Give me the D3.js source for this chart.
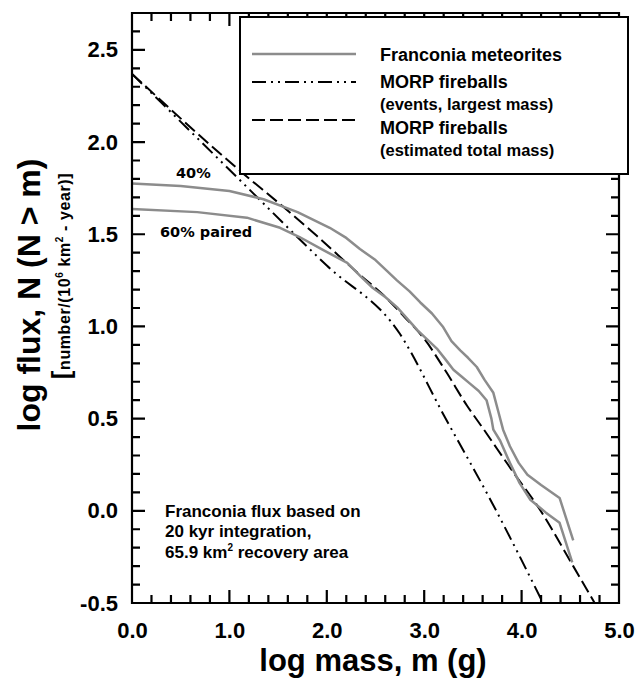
<!DOCTYPE html>
<html>
<head>
<meta charset="utf-8">
<script src="https://cdn.jsdelivr.net/npm/d3@7"></script>
<style>
  body { margin: 0; background: #fff; }
  svg { font-family: "Liberation Sans", Arial, sans-serif; font-weight: bold; }
</style>
</head>
<body>
<div id="chart"></div>
<script>
// Franconia meteorite flux vs MORP fireball flux

// data: [log mass, log flux]
const franconia40 = [[0, 1.775], [0.5, 1.762], [1.0, 1.735], [1.35, 1.69], [1.7, 1.62], [2.03, 1.535],
    [2.2, 1.48], [2.34, 1.42], [2.5, 1.36], [2.62, 1.3], [2.72, 1.25], [2.85, 1.19], [2.96, 1.13],
    [3.08, 1.07], [3.19, 1.0], [3.28, 0.92], [3.37, 0.87], [3.45, 0.83], [3.54, 0.78], [3.62, 0.71],
    [3.71, 0.64], [3.76, 0.54], [3.81, 0.44], [3.88, 0.35], [3.97, 0.26], [4.06, 0.195], [4.2, 0.14],
    [4.39, 0.07], [4.53, -0.16]];
const franconia60 = [[0, 1.637], [0.67, 1.62], [1.18, 1.59], [1.52, 1.535], [1.72, 1.485], [1.96, 1.415],
    [2.21, 1.345], [2.35, 1.27], [2.47, 1.21], [2.6, 1.16], [2.72, 1.105], [2.83, 1.04], [2.93, 0.98],
    [3.03, 0.93], [3.13, 0.88], [3.22, 0.82], [3.30, 0.765], [3.38, 0.73], [3.47, 0.69], [3.56, 0.65],
    [3.64, 0.60], [3.69, 0.5], [3.71, 0.44], [3.78, 0.38], [3.88, 0.26], [3.98, 0.15], [4.09, 0.06],
    [4.25, -0.01], [4.39, -0.065], [4.52, -0.28]];
const morpEvents = [[0, 2.37], [1.0, 1.85], [2.0, 1.33], [2.75, 0.96], [3.2, 0.52], [3.7, 0.04], [4.22, -0.5]];
const morpTotal = [[0, 2.37], [1.14, 1.83], [1.55, 1.65], [1.9, 1.49], [2.34, 1.28], [2.58, 1.17],
    [2.8, 1.05], [2.99, 0.94], [3.23, 0.75], [3.44, 0.57], [3.6, 0.45], [3.9, 0.22], [4.19, 0.005],
    [4.53, -0.3], [4.75, -0.5]];

const xTicks = [0, 1, 2, 3, 4, 5];
const yTicks = [-0.5, 0, 0.5, 1, 1.5, 2, 2.5];
const legendLabels = ["Franconia meteorites", "MORP fireballs", "(events, largest mass)", "MORP fireballs", "(estimated total mass)"];

const height = 678,
    width = 638,
    margin = ({ top: 13, right: 19, bottom: 75, left: 132 });

const svg = d3.select("#chart")
    .append("svg")
    .attr("width", width)
    .attr("height", height);

let x = d3.scaleLinear()
    .domain([0, 5])
    .range([margin.left, width - margin.right]);

let y = d3.scaleLinear()
    .domain([-0.5, 2.7])
    .range([height - margin.bottom, margin.top]);

const fmt = d => d3.format(".1f")(d).replace("\u2212", "-");

// tick labels
const xAxis = svg.append("g")
    .attr("transform", `translate(0,${height - margin.bottom})`)
    .call(d3.axisBottom(x).tickValues(xTicks).tickSize(0).tickPadding(19).tickFormat(fmt));
const yAxis = svg.append("g")
    .attr("transform", `translate(${margin.left},0)`)
    .call(d3.axisLeft(y).tickValues(yTicks).tickSize(0).tickPadding(14).tickFormat(fmt));
for (let g of [xAxis, yAxis]) {
    g.select(".domain").remove();
    g.selectAll("text").attr("fill", "#000").style("font-size", "22px");
}

svg.append("clipPath").attr("id", "plot-clip")
    .append("rect")
    .attr("x", margin.left).attr("y", margin.top)
    .attr("width", width - margin.left - margin.right)
    .attr("height", height - margin.top - margin.bottom);

const plot = svg.append("g").attr("clip-path", "url(#plot-clip)");

const grey = "#8c8c8c";
const dashDotDot = "14,5,2,5,2,5";
const dashed = "13,5";

let smooth = d3.line().x(d => x(d[0])).y(d => y(d[1])).curve(d3.curveMonotoneX);
let line = d3.line().x(d => x(d[0])).y(d => y(d[1]));

plot.append("path").datum(morpEvents).attr("d", smooth)
    .attr("fill", "none").attr("stroke", "#000").attr("stroke-width", 2).attr("stroke-dasharray", dashDotDot);
plot.append("path").datum(morpTotal).attr("d", smooth)
    .attr("fill", "none").attr("stroke", "#000").attr("stroke-width", 2).attr("stroke-dasharray", dashed);

for (let s of [franconia40, franconia60]) {
    plot.append("path").datum(s).attr("d", line)
        .attr("fill", "none").attr("stroke", grey).attr("stroke-width", 2.5)
        .attr("stroke-linejoin", "round");
}

// frame and inward ticks on all four sides in one path
const xMinor = d3.range(0, 26).map(i => i / 5);
const yMinor = d3.range(0, 33).map(i => -0.5 + i / 10);
const isMajor = (d, step) => Math.abs(d / step - Math.round(d / step)) < 1e-6;
const yb = y(-0.5), yt = y(2.7), xl = x(0), xr = x(5);

const fp = d3.path();
fp.rect(xl, yt, xr - xl, yb - yt);
xMinor.forEach(d => {
    const len = isMajor(d, 1) ? 13 : 8;
    fp.moveTo(x(d), yb); fp.lineTo(x(d), yb - len);
    fp.moveTo(x(d), yt); fp.lineTo(x(d), yt + len);
});
yMinor.forEach(d => {
    const len = isMajor(d, 0.5) ? 13 : 8;
    fp.moveTo(xl, y(d)); fp.lineTo(xl + len, y(d));
    fp.moveTo(xr, y(d)); fp.lineTo(xr - len, y(d));
});
svg.append("path")
    .attr("d", fp.toString())
    .attr("fill", "none")
    .attr("stroke", "#000")
    .attr("stroke-width", 2.2);

// legend
const legend = svg.append("g");
legend.append("rect")
    .attr("x", 240).attr("y", 17).attr("width", 388).attr("height", 157)
    .attr("fill", "#fff").attr("stroke", "#000").attr("stroke-width", 2);

const legendRows = [
    { y: 54, stroke: grey, dash: null, w: 2.5 },
    { y: 82, stroke: "#000", dash: dashDotDot, w: 2 },
    { y: 120, stroke: "#000", dash: dashed, w: 2 }
];
legendRows.forEach(r => {
    legend.append("line")
        .attr("x1", 252).attr("x2", 356).attr("y1", r.y).attr("y2", r.y)
        .attr("stroke", r.stroke).attr("stroke-width", r.w)
        .attr("stroke-dasharray", r.dash);
});
const legendTextY = [61, 88, 110, 134, 156];
legendLabels.forEach((t, i) => {
    legend.append("text")
        .attr("x", 380).attr("y", legendTextY[i])
        .style("font-size", t.startsWith("(") ? "16.5px" : "18px")
        .text(t);
});

// annotations
svg.append("text").attr("x", 176).attr("y", 178)
    .style("font-family", "DejaVu Sans").style("font-size", "14.5px").text("40%");
svg.append("text").attr("x", 160).attr("y", 237)
    .style("font-family", "DejaVu Sans").style("font-size", "14.5px").text("60% paired");

const note = svg.append("text").style("font-size", "17px");
note.append("tspan").attr("x", 165).attr("y", 517).text("Franconia flux based on");
note.append("tspan").attr("x", 165).attr("y", 537).text("20 kyr integration,");
note.append("tspan").attr("x", 165).attr("y", 558).text("65.9 km");
note.append("tspan").attr("dy", -7).style("font-size", "10px").text("2");
note.append("tspan").attr("dy", 7).text(" recovery area");

// axis titles
svg.append("text")
    .attr("text-anchor", "middle")
    .attr("x", 373)
    .attr("y", 671)
    .style("font-size", "31px")
    .text("log mass, m (g)");

svg.append("text")
    .attr("text-anchor", "middle")
    .attr("transform", "translate(40,295) rotate(-90)")
    .style("font-size", "32px")
    .text("log flux, N (N > m)");

const sub = svg.append("text")
    .attr("text-anchor", "middle")
    .attr("transform", "translate(70,276) rotate(-90)")
    .style("font-size", "16px")
    .style("letter-spacing", "0.6px");
sub.append("tspan").style("font-size", "26px").text("[");
sub.append("tspan").text("number/(10");
sub.append("tspan").attr("dy", -7).style("font-size", "10px").text("6");
sub.append("tspan").attr("dy", 7).text(" km");
sub.append("tspan").attr("dy", -7).style("font-size", "10px").text("2");
sub.append("tspan").attr("dy", 7).text(" - year)]");
</script>
</body>
</html>
